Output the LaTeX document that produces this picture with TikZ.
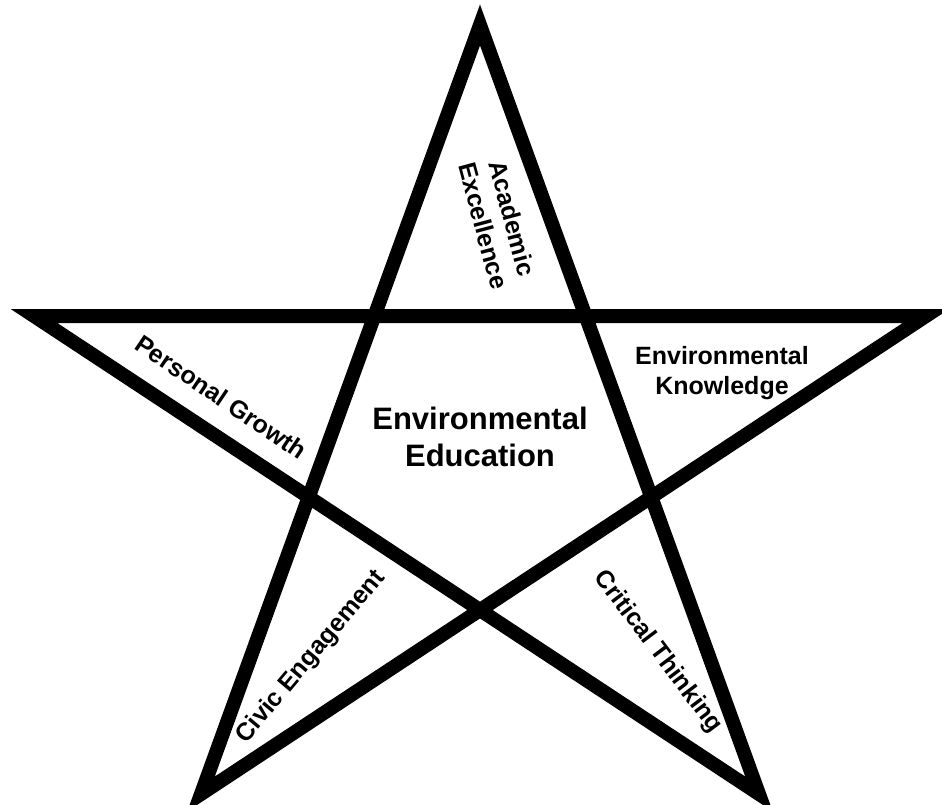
\documentclass[tikz,border=0pt]{standalone}
\usepackage{fontspec}
\setmainfont{Liberation Sans}
\begin{document}
\begin{tikzpicture}[x=1pt,y=-1pt,
  lab/.style={font=\bfseries\fontsize{25}{30}\selectfont, align=center, inner sep=0pt},
  biglab/.style={font=\bfseries\fontsize{31}{37}\selectfont, align=center, inner sep=0pt},
  starline/.style={line width=14pt, miter limit=10, line join=miter}]
\useasboundingbox (0,0) rectangle (942,805);
\coordinate (T) at (480,25);
\coordinate (L) at (34,316);
\coordinate (R) at (926,316);
\coordinate (BL) at (201,794);
\coordinate (BR) at (759,794);
\draw[starline] (T) -- (BL) -- (R) -- (L) -- (BR) -- cycle;
\node[biglab] (center) at (480,437) {Environmental\\Education};
\node[lab] (ek) at (722,373) {Environmental\\Knowledge};
\node[lab, rotate=-34] (pg) at (221,397) {Personal Growth};
\node[lab, rotate=50] (ce) at (311,657) {Civic Engagement};
\node[lab, rotate=-53] (ct) at (658,652) {Critical Thinking};
\node[lab, rotate=-75] (ae) at (498,222) {Academic\\Excellence};
\end{tikzpicture}
\end{document}
